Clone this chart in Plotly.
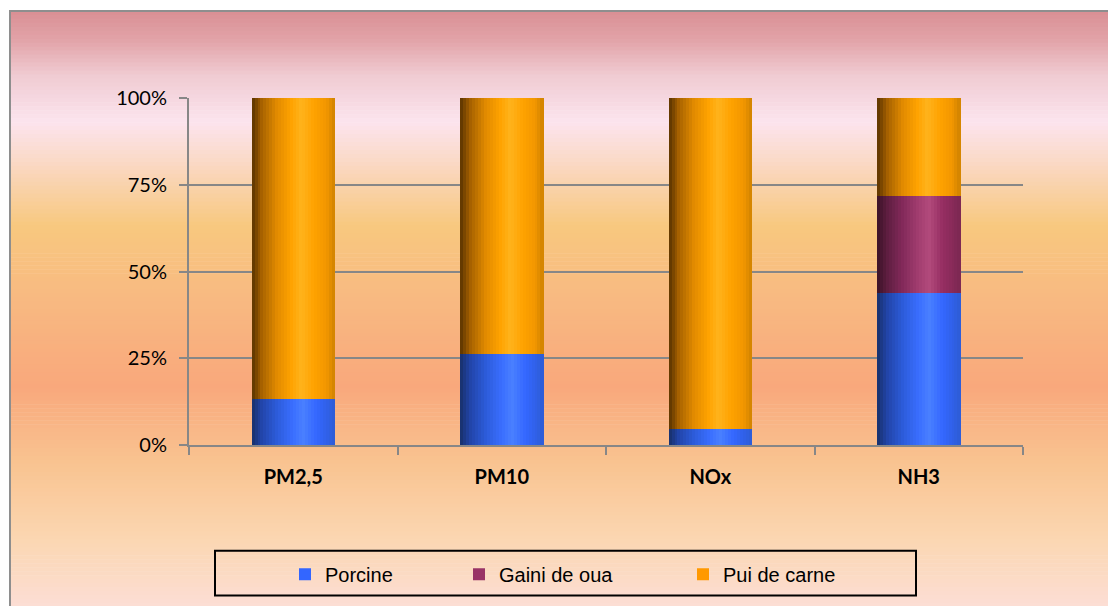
import plotly.graph_objects as go

# Emission shares by livestock category (%)
categories = ["PM2,5", "PM10", "NOx", "NH3"]
porcine = [13.2, 26.3, 4.5, 43.8]
gaini_de_oua = [0.0, 0.0, 0.0, 28.0]
pui_de_carne = [86.8, 73.7, 95.5, 28.2]
y_ticks = [0, 25, 50, 75, 100]
y_tick_labels = ["0%", "25%", "50%", "75%", "100%"]
series_names = ["Porcine", "Gaini de oua", "Pui de carne"]

# ---- page geometry (pixels) ----
W, H = 1108, 606
L, R, T, B = 189, 1023, 97.7, 447


def px_x(x):
    return (x - L) / (R - L)


def px_y(y):
    return (B - y) / (B - T)


def hex_rgb(h):
    h = h.lstrip("#")
    return tuple(int(h[i:i + 2], 16) for i in (0, 2, 4))


def lerp_color(stops, t):
    for (t0, c0), (t1, c1) in zip(stops, stops[1:]):
        if t0 <= t <= t1:
            f = 0 if t1 == t0 else (t - t0) / (t1 - t0)
            a, b = hex_rgb(c0), hex_rgb(c1)
            return "rgb(%d,%d,%d)" % tuple(round(a[i] + (b[i] - a[i]) * f) for i in range(3))
    return stops[-1][1]


# horizontal cylinder-like shading of each bar segment
shade = {
    "Porcine": [(0, "#17306A"), (0.12, "#2244A8"), (0.3, "#2C5BD8"), (0.5, "#3A6EFF"),
                (0.62, "#4A80FF"), (0.78, "#3467FF"), (1.0, "#2E5CD6")],
    "Gaini de oua": [(0, "#3A1226"), (0.12, "#5E1E40"), (0.3, "#82295A"), (0.5, "#A33E70"),
                     (0.62, "#B24A7C"), (0.78, "#962E62"), (1.0, "#7C2852")],
    "Pui de carne": [(0, "#5A3300"), (0.12, "#A46000"), (0.3, "#E08A00"), (0.48, "#FFA300"),
                     (0.6, "#FFB31C"), (0.75, "#FFA200"), (0.9, "#F29600"), (1.0, "#D08200")],
}
legend_colors = {"Porcine": "#3366FF", "Gaini de oua": "#993366", "Pui de carne": "#FF9900"}

values = {"Porcine": porcine, "Gaini de oua": gaini_de_oua, "Pui de carne": pui_de_carne}
bases = {
    "Porcine": [0] * len(categories),
    "Gaini de oua": porcine,
    "Pui de carne": [p + g for p, g in zip(porcine, gaini_de_oua)],
}

fig = go.Figure()

# legend entries
legend_ids = ["legend", "legend2", "legend3"]
for name, lid in zip(series_names, legend_ids):
    fig.add_trace(go.Bar(
        x=categories, y=[None] * len(categories), name=name,
        marker=dict(color=legend_colors[name], line=dict(width=0)),
        showlegend=True, legend=lid, hoverinfo="skip",
    ))

# bars drawn as thin vertical slices to carry the shading
BAR_W = 0.4
N_SLICES = 28
slice_w = BAR_W / N_SLICES
for name in series_names:
    for k in range(N_SLICES):
        t = (k + 0.5) / N_SLICES
        fig.add_trace(go.Bar(
            x=categories, y=values[name], base=bases[name],
            width=slice_w * 1.02, offset=-BAR_W / 2 + k * slice_w,
            marker=dict(color=lerp_color(shade[name], t), line=dict(width=0)),
            showlegend=False, name=name, hovertemplate="%{x}: %{y:.1f}%<extra>" + name + "</extra>",
        ))

# ---- background gradient of the chart area ----
bg_stops = [(10, "#D98F94"), (40, "#E2A4A9"), (75, "#F0CBD2"), (122, "#FCE4EE"),
            (162, "#FAD9C6"), (226, "#F8C87F"), (301, "#F8B981"), (388, "#F9A87C"),
            (464, "#F9C390"), (545, "#FBD7B3"), (612, "#FCDED6")]
span = bg_stops[-1][0] - bg_stops[0][0]
bg_t = [((y - 10) / span, c) for y, c in bg_stops]
shapes = []
STEP = 4
y = 10
while y < 612:
    shapes.append(dict(
        type="rect", xref="paper", yref="paper", layer="below",
        x0=px_x(10), x1=px_x(1120), y0=px_y(y), y1=px_y(y + STEP + 0.6),
        fillcolor=lerp_color(bg_t, min(1.0, (y + STEP / 2 - 10) / span)),
        line=dict(width=0),
    ))
    y += STEP

# outer frame
shapes.append(dict(type="rect", xref="paper", yref="paper", layer="below",
                   x0=px_x(10), x1=px_x(1130), y0=px_y(10), y1=px_y(640),
                   line=dict(color="#8E8E8E", width=2), fillcolor="rgba(0,0,0,0)"))
# legend box
shapes.append(dict(type="rect", xref="paper", yref="paper", layer="above",
                   x0=px_x(215), x1=px_x(916), y0=px_y(553.5), y1=px_y(598.5),
                   line=dict(color="#000000", width=2), fillcolor="rgba(0,0,0,0)"))

legend_font = dict(family="Liberation Sans, Arial, sans-serif", size=20, color="#000000")
legend_x = [285, 459, 683]
legend_layouts = {}
for lid, lx in zip(legend_ids, legend_x):
    legend_layouts[lid] = dict(
        x=px_x(lx), xanchor="left", y=px_y(577), yanchor="middle",
        orientation="h", bgcolor="rgba(0,0,0,0)", borderwidth=0,
        font=legend_font, itemwidth=30,
    )

grid_color = "#878787"
fig.update_layout(
    width=W, height=H,
    margin=dict(l=L, r=W - R, t=T, b=H - B, pad=0),
    paper_bgcolor="#FFFFFF",
    plot_bgcolor="rgba(0,0,0,0)",
    barmode="overlay",
    bargap=0,
    shapes=shapes,
    xaxis=dict(
        type="category", range=[-0.5, 3.5],
        showgrid=False, zeroline=False,
        showline=True, linecolor=grid_color, linewidth=2,
        ticks="outside", tickson="boundaries", ticklen=8, tickwidth=2, tickcolor=grid_color,
        tickfont=dict(family="Lato, sans-serif", size=20, color="#000000", weight="bold"),
        ticklabelstandoff=13,
        fixedrange=True,
    ),
    yaxis=dict(
        range=[0, 100], tickmode="array", tickvals=y_ticks, ticktext=y_tick_labels,
        showgrid=True, gridcolor=grid_color, gridwidth=2,
        zeroline=False,
        showline=True, linecolor=grid_color, linewidth=2,
        ticks="outside", ticklen=8, tickwidth=2, tickcolor=grid_color,
        tickfont=dict(family="Lato, sans-serif", size=20, color="#000000"),
        ticklabelstandoff=8,
        fixedrange=True,
    ),
    **legend_layouts,
)

fig.write_html("out.html")
